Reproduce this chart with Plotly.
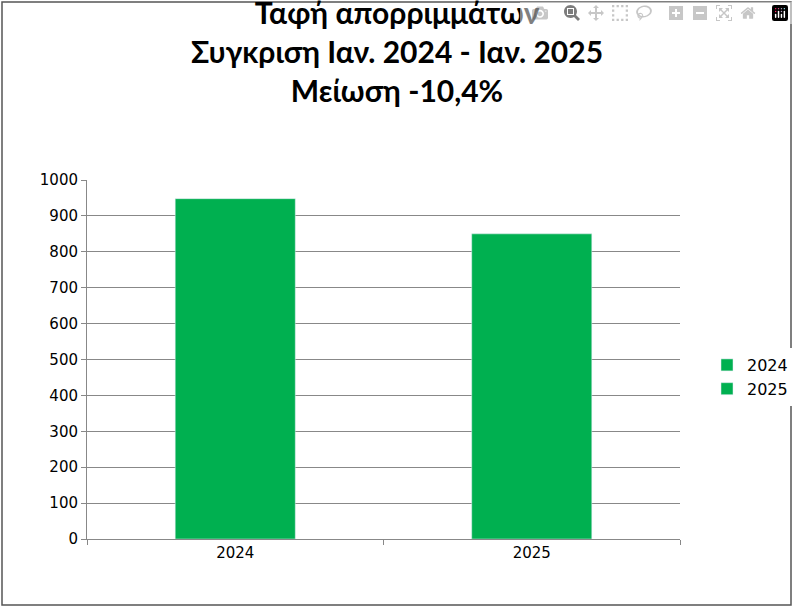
import plotly.graph_objects as go

categories = ["2024", "2025"]
values = [948, 850]
title_lines = ["Ταφή απορριμμάτων", "Συγκριση Ιαν. 2024 - Ιαν. 2025", "Μείωση -10,4%"]
color = "#00B050"

fig = go.Figure()
for c, v in zip(categories, values):
    fig.add_trace(go.Bar(x=[c], y=[v], name=c, marker_color=color, width=0.405))

W, H = 794, 608
l, r, t, b = 87, 114, 180, 69
pw, ph = W - l - r, H - t - b
fig.update_layout(
    width=W, height=H, margin=dict(l=l, r=r, t=t, b=b, autoexpand=False),
    paper_bgcolor="white", plot_bgcolor="white", barmode="overlay",
    title=dict(text="<br>".join(title_lines), x=0.5, xanchor="center", y=0.96, yanchor="top",
               font=dict(family="Lato", size=30, color="black", weight="bold")),
    font=dict(family="DejaVu Sans", size=15, color="black"),
    legend=dict(x=(707 - l) / pw, y=(539 - 348) / ph, xanchor="left", yanchor="top",
                font=dict(size=16), itemwidth=30, tracegroupgap=10),
    xaxis=dict(type="category", showline=True, linecolor="#888", ticks="outside",
               tickson="boundaries", ticklen=5, tickcolor="#888", showgrid=False),
    yaxis=dict(range=[0, 1000], dtick=100, showline=True, linecolor="#888", ticks="outside",
               ticklen=5, tickcolor="#888", gridcolor="#888", gridwidth=1),
    shapes=[dict(type="rect", xref="paper", yref="paper",
                 x0=(2 - l) / pw, x1=(791 - l) / pw, y0=(539 - 605) / ph, y1=(539 - 2) / ph,
                 line=dict(color="#555", width=1.5))],
)
fig.write_html("out.html", post_script="document.body.style.margin='0';document.body.style.overflow='hidden';")
